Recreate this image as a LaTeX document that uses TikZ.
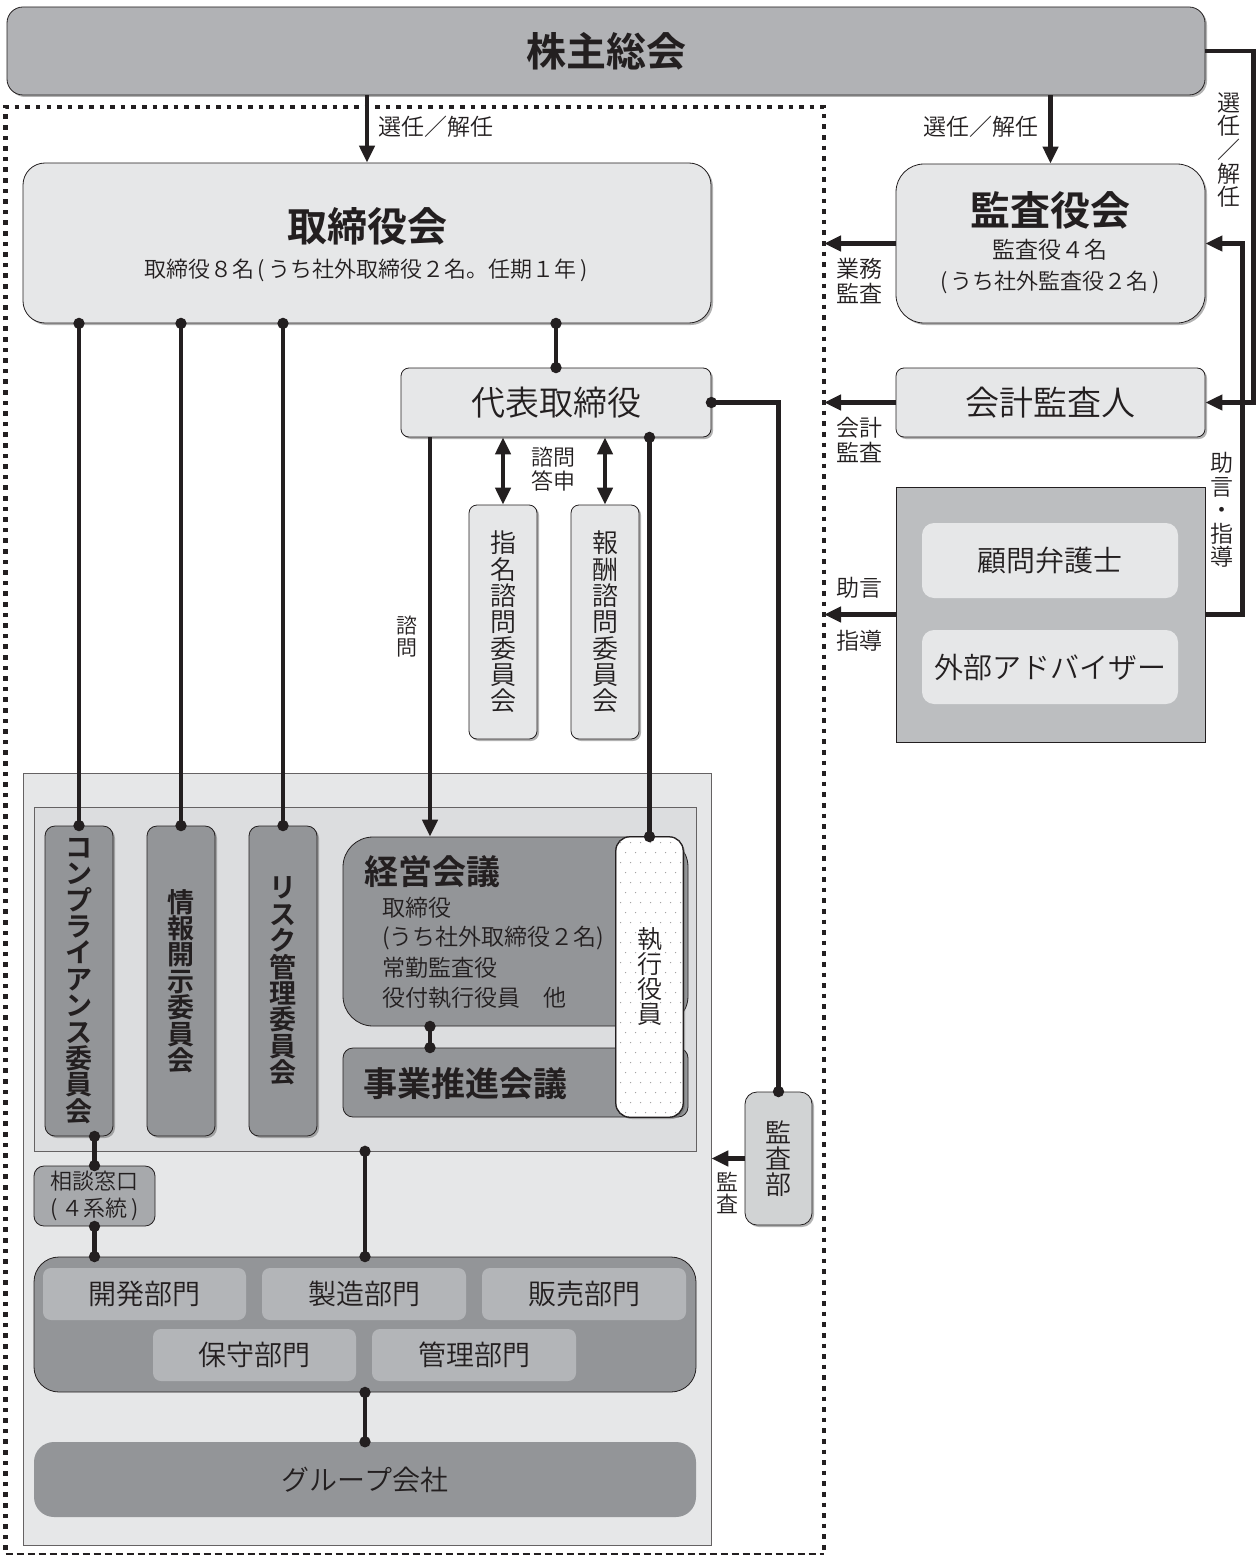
\documentclass[tikz,border=0pt]{standalone}
\usepackage{fontspec}
\setmainfont{Noto Sans CJK JP DemiLight}[BoldFont={Noto Sans CJK JP Bold}]
\usetikzlibrary{arrows.meta,shadows,calc}
\definecolor{ink}{HTML}{231F20}
\definecolor{gA}{HTML}{B1B2B5}
\definecolor{lt}{HTML}{E6E7E8}
\definecolor{dk}{HTML}{939598}
\definecolor{mid}{HTML}{B3B5B8}
\definecolor{inn}{HTML}{DCDDDF}
\definecolor{advc}{HTML}{BCBEC0}
\definecolor{kbc}{HTML}{D1D3D4}
\definecolor{sdc}{HTML}{A7A9AC}
\newcommand\jfs[2]{\fontsize{#1}{#2}\selectfont}
\begin{document}
\begin{tikzpicture}[x=1pt,y=-1pt,
  every node/.style={text=ink, inner sep=0pt},
  box/.style={draw=ink, line width=0.8pt, rectangle},
  shd/.style={drop shadow={shadow xshift=2pt, shadow yshift=-2pt, fill=black!60, opacity=0.5}},
  ln/.style={draw=ink, line width=4.4pt},
  arr/.style={ln, -{Triangle[length=17pt,width=15pt]}},
  darr/.style={ln, {Triangle[length=17pt,width=15pt]}-{Triangle[length=17pt,width=15pt]}},
  dl/.style={ln, {Circle[length=11pt]}-{Circle[length=11pt]}, shorten <=-5.5pt, shorten >=-5.5pt},
  lbl/.style={font=\jfs{23}{25}, align=center},
  vtx/.style={align=center},
]
\useasboundingbox (0,0) rectangle (1258,1557);

% ---- border of the company
\draw[ink, line width=4.6pt, dash pattern=on 4.6pt off 6pt] (5.5,1550) -- (5.5,107) -- (824,107) -- (824,1550);
\draw[ink, line width=2.2pt, dash pattern=on 7pt off 4pt] (5.5,1554) -- (824,1554);
\coordinate (bR) at (824,0);

% ---- top
\node[box, fill=gA, rounded corners=16pt, shd, minimum width=1198pt, minimum height=88pt, font=\jfs{40}{40}\bfseries] (kabu) at (606,51) {株主総会};

% ---- board
\node[box, fill=lt, rounded corners=22pt, shd, minimum width=688pt, minimum height=160pt] (tori) at (367,243) {};
\node[font=\jfs{40}{40}\bfseries] (toriT) at (367,226) {取締役会};
\node[font=\jfs{22}{22}] (toriS) at (366,270) {取締役８名\,(\,うち社外取締役２名。任期１年\,)};

% ---- audit board
\node[box, fill=lt, rounded corners=28pt, shd, minimum width=309pt, minimum height=159pt] (kansa) at (1050.5,243.5) {};
\node[font=\jfs{40}{40}\bfseries] (kansaT) at (1050,210) {監査役会};
\node[font=\jfs{23}{23}] (kansaS1) at (1050,250) {監査役４名};
\node[font=\jfs{22}{22}] (kansaS2) at (1050,282) {(\,うち社外監査役２名\,)};

\node[box, fill=lt, rounded corners=8pt, shd, minimum width=309pt, minimum height=69pt, font=\jfs{34}{34}] (kaikei) at (1050.5,402.5) {会計監査人};

\node[draw=ink, line width=0.6pt, fill=advc, minimum width=309pt, minimum height=255pt] (adv) at (1050.5,614.5) {};
\node[fill=lt, rounded corners=12pt, minimum width=256pt, minimum height=75pt, font=\jfs{29}{29}] (komon) at (1050,560.5) {顧問弁護士};
\node[fill=lt, rounded corners=12pt, minimum width=256pt, minimum height=74pt, font=\jfs{29}{29}] (gaibu) at (1050,667) {外部アドバイザー};

% ---- representative director
\node[box, fill=lt, rounded corners=8pt, shd, minimum width=310pt, minimum height=69pt, font=\jfs{34}{34}] (daihyo) at (556,402.5) {代表取締役};
\node[box, fill=lt, rounded corners=8pt, shd, minimum width=68pt, minimum height=234pt, font=\jfs{26}{26.3}, vtx] (shimei) at (503,622) {指\\名\\諮\\問\\委\\員\\会};
\node[box, fill=lt, rounded corners=8pt, shd, minimum width=68pt, minimum height=234pt, font=\jfs{26}{26.3}, vtx] (hoshu) at (605,622) {報\\酬\\諮\\問\\委\\員\\会};

% ---- lower organisation
\node[draw=ink!70, line width=0.6pt, fill=lt, minimum width=688pt, minimum height=772pt] (big) at (367,1159) {};
\node[draw=ink!70, line width=0.6pt, fill=inn, minimum width=662pt, minimum height=344pt] (inner) at (365,979) {};
\node[box, fill=dk, rounded corners=10pt, shd, minimum width=68pt, minimum height=310pt, font=\jfs{27}{26.4}\bfseries, vtx] (comp) at (79,981) {コ\\ン\\プ\\ラ\\イ\\ア\\ン\\ス\\委\\員\\会};
\node[box, fill=dk, rounded corners=10pt, shd, minimum width=68pt, minimum height=310pt, font=\jfs{27}{26.4}\bfseries, vtx] (joho) at (181,981) {情\\報\\開\\示\\委\\員\\会};
\node[box, fill=dk, rounded corners=10pt, shd, minimum width=68pt, minimum height=310pt, font=\jfs{27}{26.4}\bfseries, vtx] (risk) at (283,981) {リ\\ス\\ク\\管\\理\\委\\員\\会};

\node[box, fill=dk, rounded corners=30pt, minimum width=345pt, minimum height=189pt] (keiei) at (515.5,931.5) {};
\node[font=\jfs{34}{34}\bfseries, anchor=west] (keieiT) at (364,872) {経営会議};
\node[font=\jfs{23}{23}, anchor=west] (keieiL1) at (382,908) {取締役};
\node[font=\jfs{23}{23}, anchor=west] (keieiL2) at (382,938) {(うち社外取締役２名)};
\node[font=\jfs{23}{23}, anchor=west] (keieiL3) at (382,968) {常勤監査役};
\node[font=\jfs{23}{23}, anchor=west] (keieiL4) at (382,998) {役付執行役員　他};
\node[box, fill=dk, rounded corners=10pt, minimum width=345pt, minimum height=69pt] (jigyo) at (515.5,1082.5) {};
\node[font=\jfs{34}{34}\bfseries, anchor=west] (jigyoT) at (363,1084) {事業推進会議};

\node[box, fill=white, rounded corners=14pt, shd, minimum width=67pt, minimum height=280pt] (shikko) at (649.5,977) {};
\begin{scope}
  \clip[rounded corners=14pt] (shikko.north west) rectangle (shikko.south east);
  \foreach \j in {0,...,27} {
    \foreach \i in {0,...,6} {
      \fill[ink!45] ($(shikko.north west)+({5+\i*10+mod(\j,2)*5},{6+\j*10})$) circle (0.7pt);
    }
  }
\end{scope}
\draw[ink, line width=0.8pt, rounded corners=14pt] (shikko.north west) rectangle (shikko.south east);
\node[font=\jfs{25}{25}, vtx] (shikkoT) at (shikko.center) {執\\行\\役\\員};

\node[box, fill=kbc, rounded corners=12pt, shd, minimum width=67pt, minimum height=133pt, font=\jfs{26}{26}, vtx] (kansabu) at (778.5,1158.5) {監\\査\\部};

\node[box, fill=sdc, rounded corners=10pt, minimum width=121pt, minimum height=60pt, font=\jfs{22}{27}, vtx] (sodan) at (94.5,1196) {相談窓口\\(\,４系統\,)};

\node[box, fill=dk, rounded corners=25pt, minimum width=662pt, minimum height=135pt] (bumon) at (365,1324.5) {};
\node[fill=mid, rounded corners=8pt, minimum width=203pt, minimum height=52pt, font=\jfs{28}{28}] (kaihatsu) at (144.5,1294) {開発部門};
\node[fill=mid, rounded corners=8pt, minimum width=204pt, minimum height=52pt, font=\jfs{28}{28}] (seizo) at (364,1294) {製造部門};
\node[fill=mid, rounded corners=8pt, minimum width=204pt, minimum height=52pt, font=\jfs{28}{28}] (hanbai) at (584,1294) {販売部門};
\node[fill=mid, rounded corners=8pt, minimum width=203pt, minimum height=52pt, font=\jfs{28}{28}] (hoshubu) at (254.5,1355) {保守部門};
\node[fill=mid, rounded corners=8pt, minimum width=204pt, minimum height=52pt, font=\jfs{28}{28}] (kanri) at (474,1355) {管理部門};

\node[fill=dk, rounded corners=20pt, minimum width=662pt, minimum height=75pt, font=\jfs{28}{28}] (group) at (365,1479.5) {グループ会社};

% ---- connectors
\draw[arr] (kabu.south -| tori.north) -- (tori.north);
\node[lbl, anchor=west] (l1) at (378,127) {選任／解任};
\draw[arr] (kabu.south -| kansa.north) -- (kansa.north);
\node[lbl, anchor=east] (l2) at (1039,127) {選任／解任};
\draw[arr] (kabu.east) -- ++(48,0) |- (kaikei.east);
\node[font=\jfs{23}{23.6}, vtx] (l3) at (1229,150) {選\\任\\／\\解\\任};
\draw[arr] (adv.east) -- ++(37,0) |- (kansa.east);
\node[font=\jfs{23}{23.6}, vtx] (l4) at (1222,510) {助\\言\\・\\指\\導};

\draw[arr] (kansa.west) -- (kansa.west -| bR);
\node[lbl] (l5) at (859,281) {業務\\監査};
\draw[arr] (kaikei.west) -- (kaikei.west -| bR);
\node[lbl] (l6) at (859,440) {会計\\監査};
\draw[arr] (adv.west) -- (adv.west -| bR);
\node[lbl] (l7) at (859,588) {助言};
\node[lbl] (l8) at (859,641) {指導};

\draw[dl] (comp.north |- tori.south) -- (comp.north);
\draw[dl] (joho.north |- tori.south) -- (joho.north);
\draw[dl] (risk.north |- tori.south) -- (risk.north);
\draw[dl] (daihyo.north |- tori.south) -- (daihyo.north);

\draw[darr] (shimei.north |- daihyo.south) -- (shimei.north);
\draw[darr] (hoshu.north |- daihyo.south) -- (hoshu.north);
\node[font=\jfs{22}{24}, vtx] (l9) at (553,469) {諮問\\答申};

\coordinate (kx) at (430,0);
\draw[arr] (daihyo.south -| kx) -- (keiei.north -| kx);
\node[font=\jfs{21}{22}, vtx] (l10) at (407,637) {諮\\問};
\draw[dl] (shikko.north |- daihyo.south) -- (shikko.north);
\draw[dl] (daihyo.east) -| (kansabu.north);
\draw[dl] (keiei.south -| kx) -- (jigyo.north -| kx);

\draw[dl] (sodan.north |- comp.south) -- (sodan.north);
\draw[dl] (sodan.south) -- (bumon.north -| sodan.south);
\draw[dl] (inner.south) -- (bumon.north -| inner.south);
\draw[dl] (bumon.south) -- (group.north);

\draw[arr] (kansabu.west) -- (kansabu.west -| big.east);
\node[font=\jfs{22}{22}, vtx] (l11) at (727,1193) {監\\査};
\end{tikzpicture}
\end{document}
